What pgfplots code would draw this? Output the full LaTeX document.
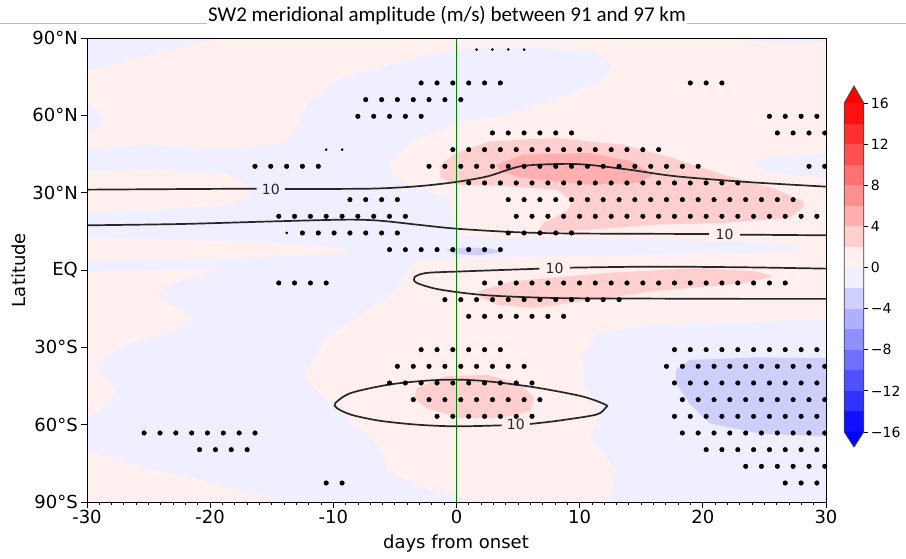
\documentclass[border=0pt]{standalone}
\usepackage{fontspec}
\setmainfont{DejaVu Sans}
\newfontfamily\titlefont{Carlito}
\usepackage{pgfplots}
\pgfplotsset{compat=1.18}

% bwr levels, 2 m/s apart
\definecolor{r0}{rgb}{1,0.9375,0.9375}
\definecolor{r1}{rgb}{1,0.8125,0.8125}
\definecolor{r2}{rgb}{1,0.6875,0.6875}
\definecolor{r3}{rgb}{1,0.5625,0.5625}
\definecolor{r4}{rgb}{1,0.4375,0.4375}
\definecolor{r5}{rgb}{1,0.3125,0.3125}
\definecolor{r6}{rgb}{1,0.1875,0.1875}
\definecolor{r7}{rgb}{1,0.0625,0.0625}
\definecolor{b0}{rgb}{0.9375,0.9375,1}
\definecolor{b1}{rgb}{0.8125,0.8125,1}
\definecolor{b2}{rgb}{0.6875,0.6875,1}
\definecolor{b3}{rgb}{0.5625,0.5625,1}
\definecolor{b4}{rgb}{0.4375,0.4375,1}
\definecolor{b5}{rgb}{0.3125,0.3125,1}
\definecolor{b6}{rgb}{0.1875,0.1875,1}
\definecolor{b7}{rgb}{0.0625,0.0625,1}
\definecolor{cline}{rgb}{0.15,0.15,0.15}
\definecolor{onset}{rgb}{0,0.5,0}

\begin{document}
\begin{tikzpicture}
\path[use as bounding box] (0,0) rectangle (906pt,559pt);
\draw[gray!55, line width=0.8pt] (0,536pt) -- (906pt,536pt);
\node[font=\titlefont\fontsize{21}{24}\selectfont, fill=white, inner sep=1pt, anchor=base]
  at (447pt,537pt) {SW2 meridional amplitude (m/s) between 91 and 97 km};

\begin{axis}[
  at={(87pt,57pt)}, anchor=south west, scale only axis,
  width=739pt, height=464pt,
  xmin=-30, xmax=30, ymin=-90, ymax=90,
  axis background/.style={fill=r0},
  axis on top,
  xtick={-30,-20,-10,0,10,20,30},
  xticklabels={-30,-20,-10,0,10,20,30},
  minor x tick num=9,
  ytick={-90,-60,-30,0,30,60,90},
  yticklabels={90°S,60°S,30°S,EQ,30°N,60°N,90°N},
  tick pos=left, tick align=outside,
  major tick length=6pt, minor tick length=3.5pt,
  tick style={black, line width=0.9pt},
  axis line style={black, line width=0.9pt},
  tick label style={font=\fontsize{18}{21}\selectfont},
  xticklabel style={inner sep=2pt},
  yticklabel style={inner sep=3pt},
]
% ---- light blue (-2..0) areas
\addplot[fill=b0, draw=none] coordinates {(-30,90)(-18.90,90)(-22.73,86.38)(-26.94,80.95)(-30,77.72)} -- cycle;
\addplot[fill=b0, draw=none] coordinates {(-30,64.14)(-28.85,61.55)(-28.66,58.32)(-29.23,55.09)(-30,53.15)} -- cycle;
\addplot[fill=b0, draw=none] coordinates {
 (-30,47.33)(-30,-69.83)(-27.28,-73.71)(-24.60,-77.59)(-21.89,-80.17)(-17.83,-85.34)(-14.31,-89.22)(-14.31,-90)
 (2.14,-90)(0.00,-87.93)(-2.98,-84.05)(-5.66,-77.59)(-6.20,-68.53)(-9.72,-54.31)(-12.44,-41.38)(-10.52,-25.86)
 (-4.86,-7.76)(-3.98,-0.52)(-3.21,3.62)(0.61,4.66)(8.27,5.30)(15.92,5.95)(23.57,6.59)(27.40,7.24)(27.78,8.79)
 (25.48,10.86)(15.92,11.77)(8.27,12.41)(2.53,12.67)(0.23,13.71)(-0.15,17.59)(-0.54,27.93)(-3.21,31.81)
 (-5.13,35.69)(-5.51,42.16)(-3.21,51.21)(0.23,57.03)(4.44,60.91)(8.27,66.72)(11.71,73.19)(12.67,79.66)
 (11.33,84.83)(6.35,86.12)(0.61,85.86)(-2.07,83.53)(-5.51,79.66)(-9.34,74.48)(-12.02,65.43)(-12.78,56.38)
 (-13.93,49.27)(-18.52,47.33)(-25.41,48.62)} -- cycle;
% ---- light pink (0..2) areas on top of it
\addplot[fill=r0, draw=none] coordinates {(-30,38.28)(-24.26,38.92)(-18.52,36.98)(-16.99,33.10)(-16.80,29.22)(-18.52,25.34)(-24.26,23.41)(-30,22.76)} -- cycle;
\addplot[fill=r0, draw=none] coordinates {(-30,12.41)(-22.35,11.77)(-14.69,10.47)(-8.57,8.28)(-10.10,5.95)(-18.52,4.66)(-30,3.62)} -- cycle;
\addplot[fill=r0, draw=none] coordinates {(-30,-0.52)(-19.21,0.0)(-23.23,-5.17)(-24.34,-9.70)(-21.35,-18.75)(-23.23,-23.92)(-27.28,-29.74)(-29.31,-36.85)(-27.55,-47.84)(-28.93,-54.31)(-30,-56.90)} -- cycle;
% ---- light blue on the right
\addplot[fill=b0, draw=none] coordinates {(30,-19.40)(16.22,-20.69)(11.33,-24.57)(10.26,-33.62)(10.26,-45.26)(11.90,-54.31)(10.83,-64.66)(12.97,-77.59)(12.44,-90)(30,-90)} -- cycle;
\addplot[fill=b0, draw=none] coordinates {(30,45.39)(25.48,44.09)(24.03,40.86)(25.48,37.63)(30,35.69)} -- cycle;
\addplot[fill=b0, draw=none] coordinates {(22.42,90)(30,90)(30,88.06)(25.48,88.45)(22.42,89.35)} -- cycle;
% ---- 2..4 and 4..6
\addplot[fill=r1, draw=none] coordinates {
 (-1.30,40.86)(0.00,45.39)(2.72,49.91)(8.11,51.21)(13.51,48.62)(17.56,43.45)(21.62,36.98)(25.68,31.81)
 (28.13,26.64)(28.24,24.70)(27.02,20.17)(21.62,18.23)(16.22,17.59)(10.83,15.65)(6.51,14.35)(7.04,18.23)
 (8.92,22.76)(9.45,26.64)(8.11,31.16)(4.06,32.46)(0.00,33.10)(-1.30,35.69)} -- cycle;
\addplot[fill=r2, draw=none] coordinates {(3.25,40.86)(5.40,44.74)(10.79,45.39)(14.31,42.16)(15.92,36.98)(14.85,33.75)(10.79,33.10)(5.40,35.69)(3.52,38.28)} -- cycle;
\addplot[fill=r1, draw=none] coordinates {(1.76,-8.28)(4.44,-4.40)(12.09,-1.16)(19.74,0.78)(24.34,-0.52)(25.68,-2.46)(23.57,-5.04)(15.92,-8.28)(10.18,-12.16)(6.35,-14.74)(3.29,-13.45)(1.95,-10.86)} -- cycle;
\addplot[fill=r1, draw=none] coordinates {(-3.21,-45.78)(-0.92,-41.25)(2.53,-40.60)(5.20,-44.48)(6.35,-49.66)(5.97,-54.83)(3.67,-57.41)(0.23,-57.41)(-2.45,-53.53)(-3.41,-49.66)} -- cycle;
% ---- -4..-2
\addplot[fill=b1, draw=none] coordinates {(17.83,-38.79)(18.90,-34.91)(24.53,-33.88)(30,-34.27)(30,-64.66)(24.53,-63.36)(20.55,-59.48)(18.90,-51.72)(17.83,-43.97)} -- cycle;
\addplot[fill=b1, draw=none] coordinates {(-0.92,7.89)(0.61,8.79)(2.91,8.28)(3.67,6.98)(1.76,5.69)(-0.15,6.21)} -- cycle;

% ---- 10 m/s contours
\addplot[cline, line width=1.7pt, smooth] coordinates {(-30,31.16)(-22,31.4)(-16.22,31.55)};
\addplot[cline, line width=1.7pt, smooth] coordinates {(-13.93,31.42)(-7.04,31.55)(-3.21,32.46)(-0.04,34.14)(2.53,36.34)(5.20,40.22)(8.27,41.12)(10.56,40.86)(14.01,38.92)(17.83,36.34)(23.57,34.14)(30,32.33)};
\addplot[cline, line width=1.7pt, smooth] coordinates {(-30,17.33)(-22.35,17.84)(-14.69,18.88)(-8.95,19.53)(-6.28,19.14)(-3.21,17.59)(-0.04,16.03)(4.44,14.74)(8.27,14.22)(14,14.05)(20.51,13.97)};
\addplot[cline, line width=1.7pt, smooth] coordinates {(23.00,13.71)(30,13.45)};
\addplot[cline, line width=1.7pt, smooth] coordinates {(30,0.52)(23.57,1.03)(15.92,1.29)(9.22,0.9)};
\addplot[cline, line width=1.7pt, smooth] coordinates {(6.73,0.5)(0.61,-0.52)(-2.45,-1.16)(-3.41,-2.84)(-3.21,-5.04)(-1.30,-7.63)(2.53,-9.83)(8.27,-10.9)(15.92,-11.1)(23.57,-11.2)(30,-11.2)};
\addplot[cline, line width=1.7pt, smooth] coordinates {(3.67,-60.26)(-0.04,-60.65)(-3.21,-60.0)(-6.28,-58.45)(-8.57,-56.12)(-9.72,-53.53)(-9.83,-51.59)(-8.57,-47.72)(-5.51,-44.48)(-2.45,-42.93)(-0.04,-42.54)(2.53,-43.19)(6.35,-45.52)(10.18,-49.0)(12.09,-52.24)(12.09,-53.53)(11.33,-56.12)(8.27,-58.45)(5.97,-59.74)};
\node[font=\fontsize{14}{16}\selectfont, text=cline, inner sep=0pt] at (axis cs:-15.07,31.4) {10};
\node[font=\fontsize{14}{16}\selectfont, text=cline, inner sep=0pt] at (axis cs:21.76,13.85) {10};
\node[font=\fontsize{14}{16}\selectfont, text=cline, inner sep=0pt] at (axis cs:7.96,0.7) {10};
\node[font=\fontsize{14}{16}\selectfont, text=cline, inner sep=0pt] at (axis cs:4.82,-60.0) {10};

% ---- onset
\addplot[onset, line width=1.9pt] coordinates {(0,-90)(0,90)};

% ---- stippling (significant points)
\addplot[only marks, mark=*, mark size=2.3pt, black] coordinates {
 (-2.87,72.55)(-1.58,72.55)(-0.30,72.55)(0.99,72.55)(2.28,72.55)(3.56,72.55)(18.98,72.55)(20.27,72.55)(21.55,72.55)
 (-7.37,66.09)(-6.08,66.09)(-4.80,66.09)(-3.51,66.09)(-2.23,66.09)(-0.94,66.09)(0.35,66.09)
 (-8.01,59.62)(-6.72,59.62)(-5.44,59.62)(-4.15,59.62)(-2.87,59.62)(25.41,59.62)(26.69,59.62)(27.98,59.62)(29.26,59.62)
 (2.92,53.16)(4.20,53.16)(5.49,53.16)(6.77,53.16)(8.06,53.16)(9.34,53.16)(26.05,53.16)(27.33,53.16)(28.62,53.16)(29.90,53.16)
 (-0.30,46.69)(0.99,46.69)(2.28,46.69)(3.56,46.69)(4.85,46.69)(6.13,46.69)(7.42,46.69)(8.70,46.69)(9.99,46.69)(11.27,46.69)(12.56,46.69)(13.84,46.69)(15.13,46.69)(16.41,46.69)
 (-16.36,40.22)(-15.08,40.22)(-13.79,40.22)(-12.51,40.22)(-11.22,40.22)(-2.23,40.22)(-0.94,40.22)(0.35,40.22)(1.63,40.22)(2.92,40.22)(4.20,40.22)(5.49,40.22)(6.77,40.22)(8.06,40.22)(9.34,40.22)(10.63,40.22)(11.91,40.22)(13.20,40.22)(14.48,40.22)(15.77,40.22)(17.05,40.22)(18.34,40.22)(19.62,40.22)(28.62,40.22)(29.90,40.22)
 (0.99,33.76)(2.28,33.76)(3.56,33.76)(4.85,33.76)(6.13,33.76)(7.42,33.76)(8.70,33.76)(9.99,33.76)(11.27,33.76)(12.56,33.76)(13.84,33.76)(15.13,33.76)(16.41,33.76)(17.70,33.76)(18.98,33.76)(20.27,33.76)(21.55,33.76)(22.84,33.76)
 (-8.65,27.29)(-7.37,27.29)(-6.08,27.29)(-4.80,27.29)(4.20,27.29)(5.49,27.29)(6.77,27.29)(8.06,27.29)(9.34,27.29)(10.63,27.29)(11.91,27.29)(13.20,27.29)(14.48,27.29)(15.77,27.29)(17.05,27.29)(18.34,27.29)(19.62,27.29)(20.91,27.29)(22.19,27.29)(23.48,27.29)(24.76,27.29)(26.05,27.29)(27.33,27.29)
 (-14.43,20.83)(-13.15,20.83)(-11.86,20.83)(-10.58,20.83)(-9.29,20.83)(-8.01,20.83)(-6.72,20.83)(-5.44,20.83)(-4.15,20.83)(4.85,20.83)(6.13,20.83)(7.42,20.83)(8.70,20.83)(9.99,20.83)(11.27,20.83)(12.56,20.83)(13.84,20.83)(15.13,20.83)(16.41,20.83)(17.70,20.83)(18.98,20.83)(20.27,20.83)(21.55,20.83)(22.84,20.83)(24.12,20.83)(25.41,20.83)(26.69,20.83)(27.98,20.83)(29.26,20.83)
 (-12.51,14.36)(-11.22,14.36)(-9.94,14.36)(-8.65,14.36)(-7.37,14.36)(-6.08,14.36)(-4.80,14.36)(4.20,14.36)(5.49,14.36)(6.77,14.36)(8.06,14.36)(9.34,14.36)
 (-5.44,7.89)(-4.15,7.89)(-2.87,7.89)(-1.58,7.89)(-0.30,7.89)(0.99,7.89)(2.28,7.89)(3.56,7.89)
 (-14.43,-5.04)(-13.15,-5.04)(-11.86,-5.04)(-10.58,-5.04)(2.28,-5.04)(3.56,-5.04)(4.85,-5.04)(6.13,-5.04)(7.42,-5.04)(8.70,-5.04)(9.99,-5.04)(11.27,-5.04)(12.56,-5.04)(13.84,-5.04)(15.13,-5.04)(16.41,-5.04)(17.70,-5.04)(18.98,-5.04)(20.27,-5.04)(21.55,-5.04)(22.84,-5.04)(24.12,-5.04)(25.41,-5.04)(26.69,-5.04)
 (-0.94,-11.50)(0.35,-11.50)(1.63,-11.50)(2.92,-11.50)(4.20,-11.50)(5.49,-11.50)(6.77,-11.50)(8.06,-11.50)(9.34,-11.50)(10.63,-11.50)(11.91,-11.50)(13.20,-11.50)
 (0.99,-17.97)(2.28,-17.97)(3.56,-17.97)(4.85,-17.97)(6.13,-17.97)(7.42,-17.97)(8.70,-17.97)
 (-2.87,-30.90)(-1.58,-30.90)(-0.30,-30.90)(0.99,-30.90)(2.28,-30.90)(3.56,-30.90)(17.70,-30.90)(18.98,-30.90)(20.27,-30.90)(21.55,-30.90)(22.84,-30.90)(24.12,-30.90)(25.41,-30.90)(26.69,-30.90)(27.98,-30.90)(29.26,-30.90)
 (-4.80,-37.37)(-3.51,-37.37)(-2.23,-37.37)(-0.94,-37.37)(0.35,-37.37)(1.63,-37.37)(2.92,-37.37)(4.20,-37.37)(5.49,-37.37)(17.05,-37.37)(18.34,-37.37)(19.62,-37.37)(20.91,-37.37)(22.19,-37.37)(23.48,-37.37)(24.76,-37.37)(26.05,-37.37)(27.33,-37.37)(28.62,-37.37)(29.90,-37.37)
 (-5.44,-43.83)(-4.15,-43.83)(-2.87,-43.83)(-1.58,-43.83)(-0.30,-43.83)(0.99,-43.83)(2.28,-43.83)(3.56,-43.83)(4.85,-43.83)(6.13,-43.83)(17.70,-43.83)(18.98,-43.83)(20.27,-43.83)(21.55,-43.83)(22.84,-43.83)(24.12,-43.83)(25.41,-43.83)(26.69,-43.83)(27.98,-43.83)(29.26,-43.83)
 (-3.51,-50.30)(-2.23,-50.30)(-0.94,-50.30)(0.35,-50.30)(1.63,-50.30)(2.92,-50.30)(4.20,-50.30)(5.49,-50.30)(6.77,-50.30)(18.34,-50.30)(19.62,-50.30)(20.91,-50.30)(22.19,-50.30)(23.48,-50.30)(24.76,-50.30)(26.05,-50.30)(27.33,-50.30)(28.62,-50.30)(29.90,-50.30)
 (-1.58,-56.77)(-0.30,-56.77)(0.99,-56.77)(2.28,-56.77)(3.56,-56.77)(4.85,-56.77)(6.13,-56.77)(17.70,-56.77)(18.98,-56.77)(20.27,-56.77)(21.55,-56.77)(22.84,-56.77)(24.12,-56.77)(25.41,-56.77)(26.69,-56.77)(27.98,-56.77)(29.26,-56.77)
 (-25.36,-63.23)(-24.07,-63.23)(-22.79,-63.23)(-21.50,-63.23)(-20.22,-63.23)(-18.93,-63.23)(-17.65,-63.23)(-16.36,-63.23)(18.34,-63.23)(19.62,-63.23)(20.91,-63.23)(22.19,-63.23)(23.48,-63.23)(24.76,-63.23)(26.05,-63.23)(27.33,-63.23)(28.62,-63.23)(29.90,-63.23)
 (-20.86,-69.70)(-19.57,-69.70)(-18.29,-69.70)(-17.00,-69.70)(20.27,-69.70)(21.55,-69.70)(22.84,-69.70)(24.12,-69.70)(25.41,-69.70)(26.69,-69.70)(27.98,-69.70)(29.26,-69.70)
 (23.48,-76.16)(24.76,-76.16)(26.05,-76.16)(27.33,-76.16)(28.62,-76.16)(29.90,-76.16)
 (-10.58,-82.63)(-9.29,-82.63)(26.69,-82.63)(27.98,-82.63)(29.26,-82.63)
};
% partial dots at the edges of the hatched areas
\addplot[only marks, mark=*, mark size=1.1pt, black] coordinates {
 (1.63,85.5)(2.92,85.5)(4.20,85.5)(5.49,85.5)(-13.79,14.36)(-10.58,46.69)(-9.29,46.69)
};
\end{axis}

% ---- colour bar
\begin{axis}[
  at={(844.3pt,127pt)}, anchor=south west, scale only axis,
  width=19.4pt, height=329pt,
  xmin=0, xmax=1, ymin=-16, ymax=16, clip=false,
  axis line style={draw=none},
  xtick=\empty,
  ytick={-16,-12,-8,-4,0,4,8,12,16},
  yticklabels={−16,−12,−8,−4,0,4,8,12,16},
  ytick pos=right, yticklabel pos=right, tick align=outside,
  major tick length=4.5pt,
  tick style={black, line width=0.8pt},
  yticklabel style={font=\fontsize{14}{16}\selectfont, inner sep=2.5pt},
]
\addplot[fill=b7, draw=none] coordinates {(0,-16)(1,-16)(1,-14)(0,-14)} -- cycle;
\addplot[fill=b6, draw=none] coordinates {(0,-14)(1,-14)(1,-12)(0,-12)} -- cycle;
\addplot[fill=b5, draw=none] coordinates {(0,-12)(1,-12)(1,-10)(0,-10)} -- cycle;
\addplot[fill=b4, draw=none] coordinates {(0,-10)(1,-10)(1,-8)(0,-8)} -- cycle;
\addplot[fill=b3, draw=none] coordinates {(0,-8)(1,-8)(1,-6)(0,-6)} -- cycle;
\addplot[fill=b2, draw=none] coordinates {(0,-6)(1,-6)(1,-4)(0,-4)} -- cycle;
\addplot[fill=b1, draw=none] coordinates {(0,-4)(1,-4)(1,-2)(0,-2)} -- cycle;
\addplot[fill=b0, draw=none] coordinates {(0,-2)(1,-2)(1,0)(0,0)} -- cycle;
\addplot[fill=r0, draw=none] coordinates {(0,0)(1,0)(1,2)(0,2)} -- cycle;
\addplot[fill=r1, draw=none] coordinates {(0,2)(1,2)(1,4)(0,4)} -- cycle;
\addplot[fill=r2, draw=none] coordinates {(0,4)(1,4)(1,6)(0,6)} -- cycle;
\addplot[fill=r3, draw=none] coordinates {(0,6)(1,6)(1,8)(0,8)} -- cycle;
\addplot[fill=r4, draw=none] coordinates {(0,8)(1,8)(1,10)(0,10)} -- cycle;
\addplot[fill=r5, draw=none] coordinates {(0,10)(1,10)(1,12)(0,12)} -- cycle;
\addplot[fill=r6, draw=none] coordinates {(0,12)(1,12)(1,14)(0,14)} -- cycle;
\addplot[fill=r7, draw=none] coordinates {(0,14)(1,14)(1,16)(0,16)} -- cycle;
\addplot[fill=red, draw=none] coordinates {(0,16)(0.5,17.65)(1,16)} -- cycle;
\addplot[fill=blue, draw=none] coordinates {(0,-16)(0.5,-17.46)(1,-16)} -- cycle;
\addplot[black!75, line width=0.8pt] coordinates {(0,-16)(0,16)(0.5,17.65)(1,16)(1,-16)(0.5,-17.46)} -- cycle;
\end{axis}

\node[font=\fontsize{18}{21}\selectfont, anchor=base] at (456pt,10pt) {days from onset};
\node[font=\fontsize{18}{21}\selectfont, anchor=base, rotate=90] at (25pt,289pt) {Latitude};
\end{tikzpicture}
\end{document}
